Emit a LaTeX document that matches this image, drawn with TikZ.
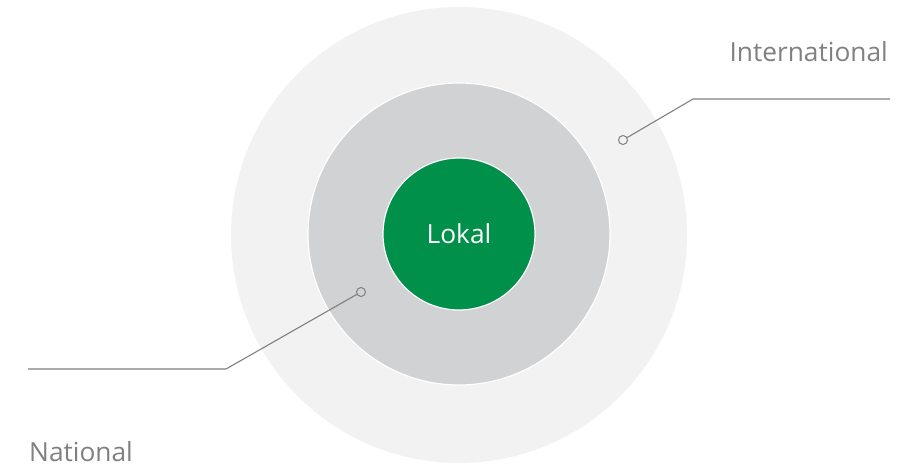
\documentclass[tikz,border=0pt]{standalone}
\usepackage{fontspec}
\setmainfont{Open Sans}
\definecolor{outerc}{HTML}{F2F2F2}
\definecolor{midc}{HTML}{D1D2D4}
\definecolor{greenc}{HTML}{00904A}
\definecolor{linec}{HTML}{808080}
\begin{document}
\begin{tikzpicture}[x=1pt,y=-1pt,
  ring/.style={circle,inner sep=0pt,draw=white,line width=1.2pt},
  lbl/.style={text=linec,font=\fontsize{26.3}{30}\selectfont,inner sep=0pt},
  leader/.style={draw=linec,line width=1.1pt},
  marker/.style={circle,draw=linec,line width=1pt,inner sep=0pt,minimum size=9pt}]
\useasboundingbox (0,0) rectangle (913,464);
\node[ring,fill=outerc,draw=none,minimum size=456pt] (outer) at (459,235) {};
\node[ring,fill=midc,minimum size=302pt] (mid) at (459,234) {};
\node[ring,fill=greenc,minimum size=152pt,text=white,font=\fontsize{26.3}{30}\selectfont] (lok) at (459,234) {Lokal};
\node[marker] (m1) at (623,140) {};
\coordinate (k1) at (693,99);
\coordinate (e1) at (890,99);
\draw[leader] (m1) -- (k1) -- (e1);
\node[marker] (m2) at (361,292) {};
\coordinate (k2) at (226,369);
\coordinate (e2) at (28,369);
\draw[leader] (m2) -- (k2) -- (e2);
\node[lbl,anchor=base east] (intl) at (888,61) {International};
\node[lbl,anchor=base west] (natl) at (29,461) {National};
\end{tikzpicture}
\end{document}
